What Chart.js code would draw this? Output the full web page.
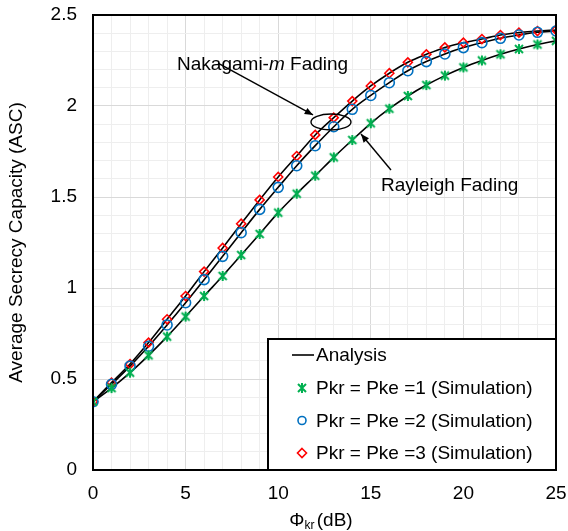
<!DOCTYPE html>
<html>
<head>
<meta charset="utf-8">
<script src="https://cdn.jsdelivr.net/npm/chart.js@4.4.1/dist/chart.umd.min.js"></script>
<style>
  body { margin: 0; background: #fff; }
  #wrap { width: 568px; height: 531px; }
</style>
</head>
<body>
<div id="wrap"><canvas id="ascChart"></canvas></div>
<script>
// Phi_kr (dB) on the x axis
const phiKr = [0, 1, 2, 3, 4, 5, 6, 7, 8, 9, 10, 11, 12, 13, 14, 15, 16, 17, 18, 19, 20, 21, 22, 23, 24, 25];

// average secrecy capacity
const ascPk1 = [0.375, 0.45, 0.535, 0.63, 0.733, 0.843, 0.956, 1.066, 1.181, 1.297, 1.414, 1.518, 1.617, 1.718, 1.813, 1.905,
                1.985, 2.055, 2.115, 2.167, 2.212, 2.25, 2.284, 2.313, 2.338, 2.358];
const ascPk2 = [0.375, 0.471, 0.571, 0.68, 0.797, 0.919, 1.046, 1.174, 1.304, 1.432, 1.553, 1.672, 1.782, 1.886, 1.982, 2.058,
                2.128, 2.194, 2.244, 2.286, 2.321, 2.348, 2.372, 2.39, 2.405, 2.412];
const ascPk3 = [0.375, 0.48, 0.582, 0.7, 0.828, 0.956, 1.09, 1.22, 1.353, 1.484, 1.61, 1.725, 1.841, 1.936, 2.027, 2.11,
                2.18, 2.24, 2.284, 2.322, 2.348, 2.368, 2.39, 2.403, 2.412, 2.418];

const seriesLabels = ["Pkr = Pke =1 (Simulation)", "Pkr = Pke =2 (Simulation)", "Pkr = Pke =3 (Simulation)"];
const xTickLabels = ["0", "5", "10", "15", "20", "25"];
const yTickLabels = ["0", "0.5", "1", "1.5", "2", "2.5"];

const FONT = "'Liberation Sans', Arial, sans-serif";
Chart.defaults.font.family = FONT;
Chart.defaults.font.size = 19;
Chart.defaults.color = "#000";

function toPoints(ys) {
    return phiKr.map((x, i) => ({ x: x, y: ys[i] }));
}

// excel style star marker: an X with a vertical stroke
function makeStar(color) {
    let c = document.createElement("canvas");
    c.width = 12; c.height = 12;
    let g = c.getContext("2d");
    g.strokeStyle = color;
    g.lineWidth = 2;
    g.beginPath();
    g.moveTo(2, 2); g.lineTo(10, 10);
    g.moveTo(10, 2); g.lineTo(2, 10);
    g.moveTo(6, 1); g.lineTo(6, 11);
    g.stroke();
    return c;
}
const starGreen = makeStar("#00b050");

function markerSet(label, ys, style, color, radius) {
    return {
        label: label,
        data: toPoints(ys),
        showLine: false,
        pointStyle: style,
        pointRadius: radius,
        pointBorderColor: color,
        pointBackgroundColor: "rgba(0,0,0,0)",
        pointBorderWidth: 1.6,
        order: 0
    };
}

function lineSet(ys) {
    return {
        label: "Analysis",
        data: toPoints(ys),
        borderColor: "#000",
        borderWidth: 1.6,
        pointRadius: 0,
        cubicInterpolationMode: "monotone",
        fill: false,
        order: 1
    };
}

function arrow(ctx, x1, y1, x2, y2) {
    ctx.beginPath();
    ctx.moveTo(x1, y1);
    ctx.lineTo(x2, y2);
    ctx.stroke();
    let a = Math.atan2(y2 - y1, x2 - x1);
    ctx.beginPath();
    ctx.moveTo(x2, y2);
    ctx.lineTo(x2 - 9 * Math.cos(a - 0.4), y2 - 9 * Math.sin(a - 0.4));
    ctx.lineTo(x2 - 9 * Math.cos(a + 0.4), y2 - 9 * Math.sin(a + 0.4));
    ctx.closePath();
    ctx.fill();
}

const extras = {
    id: "extras",
    afterDraw(chart) {
        let ctx = chart.ctx;
        let area = chart.chartArea;
        let xs = chart.scales.x, ys = chart.scales.y;
        ctx.save();

        // plot frame
        ctx.strokeStyle = "#000";
        ctx.lineWidth = 2;
        ctx.strokeRect(area.left, area.top, area.right - area.left, area.bottom - area.top);

        // annotations
        ctx.fillStyle = "#000";
        ctx.lineWidth = 1.4;
        ctx.textBaseline = "alphabetic";
        let tx = xs.getPixelForValue(4.54), ty = ys.getPixelForValue(2.2);
        ctx.font = "19px " + FONT;
        ctx.fillText("Nakagami-", tx, ty);
        tx += ctx.measureText("Nakagami-").width;
        ctx.font = "italic 19px " + FONT;
        ctx.fillText("m", tx, ty);
        tx += ctx.measureText("m").width;
        ctx.font = "19px " + FONT;
        ctx.fillText(" Fading", tx, ty);

        arrow(ctx, xs.getPixelForValue(6.75), ys.getPixelForValue(2.235),
                   xs.getPixelForValue(11.88), ys.getPixelForValue(1.951));
        ctx.beginPath();
        ctx.ellipse(xs.getPixelForValue(12.85), ys.getPixelForValue(1.912), 20, 8, 0, 0, Math.PI * 2);
        ctx.stroke();

        arrow(ctx, xs.getPixelForValue(16.09), ys.getPixelForValue(1.648),
                   xs.getPixelForValue(14.47), ys.getPixelForValue(1.846));
        ctx.fillText("Rayleigh Fading", xs.getPixelForValue(15.55), ys.getPixelForValue(1.533));

        // legend box in the lower right corner
        let lx = 268, ly = 339;
        ctx.fillStyle = "#fff";
        ctx.fillRect(lx, ly, area.right - lx, area.bottom - ly);
        ctx.lineWidth = 2;
        ctx.strokeStyle = "#000";
        ctx.strokeRect(lx, ly, area.right - lx, area.bottom - ly);
        ctx.fillStyle = "#000";
        ctx.textBaseline = "middle";
        ctx.font = "19px " + FONT;
        let rows = [355, 388, 420.5, 453];
        ctx.lineWidth = 1.6;
        ctx.beginPath();
        ctx.moveTo(292, rows[0]); ctx.lineTo(314, rows[0]);
        ctx.stroke();
        ctx.fillText("Analysis", 316, rows[0] + 1);
        // green star
        ctx.drawImage(starGreen, 296, rows[1] - 6, 12, 12);
        // blue circle
        ctx.strokeStyle = "#0070c0";
        ctx.beginPath();
        ctx.arc(302, rows[2], 4, 0, Math.PI * 2);
        ctx.stroke();
        // red diamond
        ctx.strokeStyle = "#ff0000";
        ctx.beginPath();
        ctx.moveTo(302, rows[3] - 4.5); ctx.lineTo(306.5, rows[3]);
        ctx.lineTo(302, rows[3] + 4.5); ctx.lineTo(297.5, rows[3]);
        ctx.closePath();
        ctx.stroke();
        seriesLabels.forEach((s, i) => ctx.fillText(s, 316, rows[i + 1] + 1));

        // x axis title with subscript
        ctx.textBaseline = "alphabetic";
        ctx.font = "19px " + FONT;
        let wPhi = ctx.measureText("\u03A6").width;
        let wDb = ctx.measureText(" (dB)").width;
        ctx.font = "12px " + FONT;
        let wSub = ctx.measureText("kr").width;
        let cx = (area.left + area.right) / 2 - 2;
        let sx = cx - (wPhi + wSub + wDb) / 2;
        ctx.font = "19px " + FONT;
        ctx.fillText("\u03A6", sx, 526);
        ctx.font = "12px " + FONT;
        ctx.fillText("kr", sx + wPhi, 529);
        ctx.font = "19px " + FONT;
        ctx.fillText(" (dB)", sx + wPhi + wSub - 3, 526);
        ctx.restore();
    }
};

new Chart(document.getElementById("ascChart"), {
    type: "line",
    data: {
        datasets: [
            markerSet(seriesLabels[0], ascPk1, starGreen, "#00b050", 6),
            markerSet(seriesLabels[1], ascPk2, "circle", "#0070c0", 5),
            markerSet(seriesLabels[2], ascPk3, "rectRot", "#ff0000", 4.5),
            lineSet(ascPk1),
            lineSet(ascPk2),
            lineSet(ascPk3)
        ]
    },
    options: {
        responsive: true,
        maintainAspectRatio: false,
        animation: false,
        layout: { padding: { top: 15, right: 12, left: 0, bottom: 0 } },
        plugins: {
            legend: { display: false },
            tooltip: { enabled: false }
        },
        scales: {
            x: {
                type: "linear",
                min: 0,
                max: 25,
                afterFit: (scale) => {
                    scale.height = 61;
                    scale.paddingLeft = 0;
                    scale.paddingRight = 0;
                },
                border: { display: false },
                grid: {
                    drawTicks: false,
                    color: (c) => (c.tick.value % 5 === 0 ? "#d9d9d9" : "#eeeeee")
                },
                ticks: {
                    stepSize: 1,
                    padding: 12,
                    maxRotation: 0,
                    autoSkip: false,
                    callback: (v) => (xTickLabels.includes(String(v)) ? String(v) : "")
                }
            },
            y: {
                min: 0,
                max: 2.5,
                afterFit: (scale) => {
                    scale.width = 93;
                    scale.paddingTop = 0;
                    scale.paddingBottom = 0;
                },
                border: { display: false },
                grid: {
                    drawTicks: false,
                    color: (c) => (Math.round(c.tick.value * 10) % 5 === 0 ? "#d9d9d9" : "#eeeeee")
                },
                ticks: {
                    stepSize: 0.1,
                    padding: 16,
                    autoSkip: false,
                    callback: (v) => {
                        let s = String(Math.round(v * 10) / 10);
                        return yTickLabels.includes(s) ? s : "";
                    }
                },
                title: {
                    display: true,
                    text: "Average Secrecy Capacity (ASC)",
                    font: { size: 19 },
                    padding: { top: 5, bottom: 0 }
                }
            }
        }
    },
    plugins: [extras]
});
</script>
</body>
</html>
